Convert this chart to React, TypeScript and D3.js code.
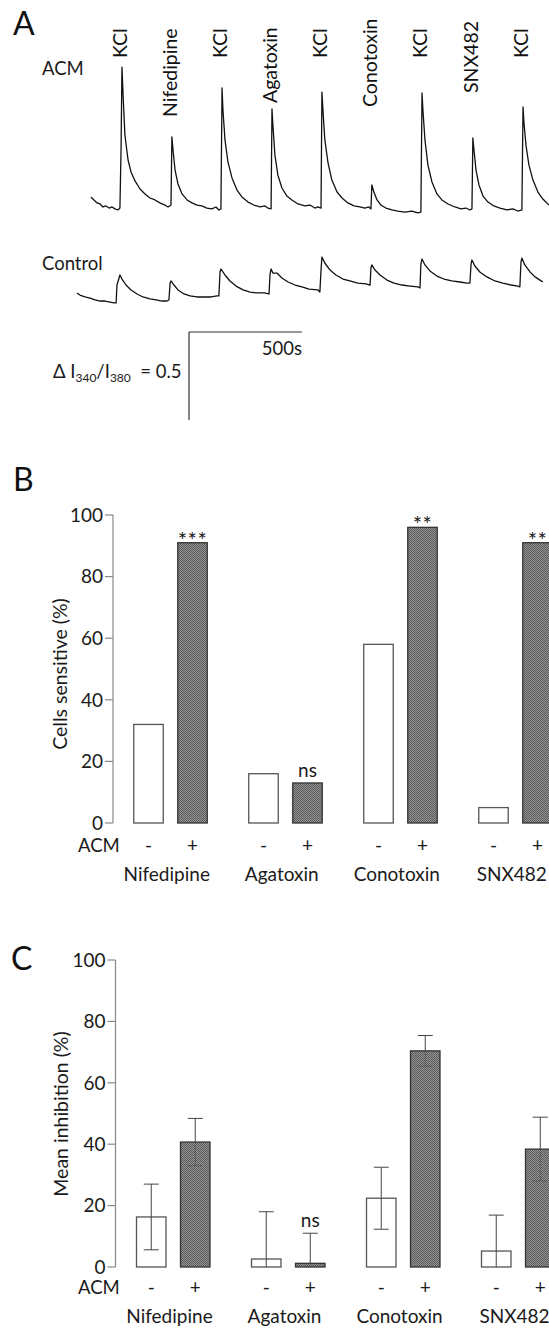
import * as d3 from "d3"

// ---- panel A: calcium traces, [time (s), delta ratio]
const acmTrace: [number, number][] = [
  [0, 0.131], [13, 0.114], [27, 0.097], [40, 0.091], [53, 0.074], [66, 0.08], [80, 0.068], [93, 0.074], [106, 0.063], [119, 0.057], [128, 0.068],
  [133, 0.398], [137, 0.869], [142, 0.71], [150, 0.483], [164, 0.341], [177, 0.273], [195, 0.222], [217, 0.176], [239, 0.148], [261, 0.125], [283, 0.114], [305, 0.097], [327, 0.085], [341, 0.074], [354, 0.085],
  [358, 0.472], [363, 0.398], [372, 0.284], [385, 0.205], [403, 0.148], [425, 0.114], [447, 0.097], [469, 0.085], [491, 0.08], [513, 0.068], [535, 0.063], [553, 0.074], [566, 0.057], [575, 0.063],
  [580, 0.75], [584, 0.625], [593, 0.455], [606, 0.33], [624, 0.239], [646, 0.17], [668, 0.131], [695, 0.102], [721, 0.085], [748, 0.074], [770, 0.08], [783, 0.068], [797, 0.063],
  [801, 0.631], [805, 0.54], [814, 0.369], [827, 0.256], [845, 0.182], [867, 0.136], [889, 0.114], [916, 0.091], [947, 0.08], [969, 0.085], [991, 0.068], [1004, 0.074], [1018, 0.068],
  [1022, 0.727], [1027, 0.614], [1035, 0.455], [1049, 0.324], [1066, 0.227], [1089, 0.159], [1111, 0.125], [1137, 0.097], [1164, 0.08], [1190, 0.074], [1212, 0.068], [1230, 0.074], [1239, 0.063],
  [1243, 0.199], [1252, 0.159], [1266, 0.114], [1283, 0.085], [1305, 0.068], [1332, 0.057], [1358, 0.051], [1389, 0.045], [1420, 0.051], [1447, 0.04], [1460, 0.045],
  [1465, 0.722], [1469, 0.625], [1478, 0.455], [1491, 0.313], [1509, 0.216], [1531, 0.148], [1553, 0.114], [1580, 0.091], [1611, 0.074], [1637, 0.063], [1659, 0.068], [1677, 0.057], [1686, 0.063],
  [1690, 0.466], [1695, 0.398], [1704, 0.284], [1717, 0.199], [1735, 0.136], [1757, 0.102], [1783, 0.08], [1810, 0.068], [1841, 0.057], [1867, 0.063], [1889, 0.051], [1907, 0.057],
  [1912, 0.642], [1916, 0.557], [1925, 0.426], [1938, 0.313], [1956, 0.227], [1978, 0.159], [2000, 0.119], [2027, 0.085],
]

const controlTrace: [number, number][] = [
  [-62, 0.097], [-49, 0.085], [-27, 0.074], [-4, 0.068], [18, 0.057], [40, 0.051], [62, 0.051], [84, 0.045], [102, 0.04], [111, 0.04],
  [115, 0.142], [128, 0.199], [137, 0.176], [155, 0.142], [177, 0.114], [204, 0.091], [230, 0.074], [261, 0.063], [288, 0.057], [314, 0.051], [336, 0.051], [345, 0.057],
  [350, 0.153], [354, 0.165], [367, 0.142], [385, 0.114], [412, 0.091], [438, 0.08], [469, 0.074], [500, 0.074], [531, 0.074], [558, 0.08], [566, 0.08],
  [571, 0.216], [575, 0.233], [593, 0.199], [615, 0.165], [642, 0.136], [673, 0.114], [704, 0.102], [735, 0.097], [766, 0.097], [788, 0.091],
  [792, 0.199], [797, 0.233], [805, 0.21], [823, 0.21], [845, 0.182], [872, 0.159], [903, 0.142], [934, 0.131], [965, 0.119], [1004, 0.114], [1013, 0.102],
  [1018, 0.227], [1022, 0.301], [1035, 0.267], [1058, 0.227], [1084, 0.199], [1115, 0.176], [1146, 0.165], [1181, 0.153], [1217, 0.148], [1235, 0.142],
  [1239, 0.239], [1243, 0.256], [1257, 0.227], [1279, 0.199], [1310, 0.17], [1341, 0.153], [1376, 0.142], [1412, 0.136], [1447, 0.131], [1456, 0.125],
  [1460, 0.261], [1465, 0.29], [1478, 0.256], [1500, 0.222], [1531, 0.193], [1562, 0.176], [1597, 0.165], [1633, 0.159], [1664, 0.153], [1677, 0.153],
  [1682, 0.261], [1686, 0.284], [1699, 0.25], [1721, 0.216], [1752, 0.188], [1788, 0.165], [1823, 0.153], [1859, 0.142], [1889, 0.136], [1898, 0.131],
  [1903, 0.273], [1907, 0.295], [1920, 0.256], [1943, 0.216], [1965, 0.188], [1987, 0.17], [2000, 0.159],
]

const stimLabels = ["KCl", "Nifedipine", "KCl", "Agatoxin", "KCl", "Conotoxin", "KCl", "SNX482", "KCl"]
const stimTimes = [137, 358, 580, 801, 1022, 1243, 1465, 1690, 1912]

// ---- panels B and C
const groups = ["Nifedipine", "Agatoxin", "Conotoxin", "SNX482"]
const acmLevels = ["-", "+"]
const sensitiveMinus = [32, 16, 58, 5]
const sensitivePlus = [91, 13, 96, 91]
const sensitiveSig = ["***", "ns", "**", "**"]
const inhibMinus = [16.3, 2.6, 22.4, 5.2]
const inhibPlus = [40.7, 1.2, 70.4, 38.4]
const inhibMinusErr = [10.7, 15.4, 10.1, 11.7]
const inhibPlusErr = [7.7, 9.8, 5.0, 10.4]
const inhibSig = ["", "ns", "", ""]
const yTicks = [0, 20, 40, 60, 80, 100]

const FONT = "Lato, 'Open Sans', sans-serif"
const W = 549
const H = 1328

// y position (bottom end) of the rotated stimulus labels
const labelBottom = [58, 117, 58, 103, 58, 107, 58, 93, 58]

interface BarPanelProps {
  axisX: number
  y0: number
  y100: number
  barStart: number
  minus: number[]
  plus: number[]
  minusErr?: number[]
  plusErr?: number[]
  sig: string[]
  yLabel: string
  yLabelPos: [number, number]
  acmY: number
  nameY: number
}

function BarPanel({ axisX, y0, y100, barStart, minus, plus, minusErr, plusErr, sig, yLabel, yLabelPos, acmY, nameY }: BarPanelProps) {
  const y = d3.scaleLinear().domain([0, 100]).range([y0, y100])
  const xg = d3.scaleBand<string>().domain(groups).range([barStart, barStart + 115 * groups.length]).padding(0)
  const xi = d3.scaleBand<string>().domain(acmLevels).range([0, 73.5]).paddingInner(0.33).paddingOuter(0)
  const bw = xi.bandwidth()

  return (
    <g>
      {/* axis */}
      <line x1={axisX} x2={axisX} y1={y(0)} y2={y(100)} stroke="#888" strokeWidth={1.2} />
      {yTicks.map((t) => (
        <g key={t}>
          <line x1={axisX - 8} x2={axisX} y1={y(t)} y2={y(t)} stroke="#888" strokeWidth={1.2} />
          <text x={axisX - 10} y={y(t)} dy="0.36em" textAnchor="end" fontSize={19} fill="#1a1a1a">
            {t}
          </text>
        </g>
      ))}
      <text transform={`translate(${yLabelPos[0]},${yLabelPos[1]}) rotate(-90)`} textAnchor="middle" dy="0.35em" fontSize={19.5} fill="#1a1a1a">
        {yLabel}
      </text>

      {groups.map((g, i) => {
        const gx = xg(g) as number
        const vals = [minus[i], plus[i]]
        const errs = minusErr && plusErr ? [minusErr[i], plusErr[i]] : null
        return (
          <g key={g}>
            {acmLevels.map((lv, j) => {
              const bx = gx + (xi(lv) as number)
              const cx = bx + bw / 2
              const top = y(vals[j])
              const dark = lv === "+"
              let err = null
              if (errs) {
                const hi = y(vals[j] + errs[j])
                const loVal = vals[j] - errs[j]
                const lo = y(Math.max(loVal, 0))
                err = (
                  <g stroke="#444" strokeWidth={1}>
                    <line x1={cx} x2={cx} y1={hi} y2={top} />
                    <line x1={cx - 7.5} x2={cx + 7.5} y1={hi} y2={hi} />
                    <line x1={cx} x2={cx} y1={top} y2={lo} strokeDasharray={dark ? "1.5,1.5" : undefined} />
                    {loVal > 0 && <line x1={cx - 7.5} x2={cx + 7.5} y1={lo} y2={lo} strokeDasharray={dark ? "1.5,1.5" : undefined} />}
                  </g>
                )
              }
              return (
                <g key={lv}>
                  <rect
                    x={bx}
                    y={top}
                    width={bw}
                    height={y(0) - top}
                    fill={dark ? "url(#checker)" : "#fff"}
                    stroke={dark ? "#333" : "#555"}
                    strokeWidth={1.3}
                  />
                  {err}
                  <text x={cx} y={acmY} textAnchor="middle" fontSize={19} fill="#1a1a1a">
                    {lv}
                  </text>
                </g>
              )
            })}
            {sig[i] && (() => {
              const cx = gx + (xi("+") as number) + bw / 2
              const refTop = errs ? y(plus[i] + errs[1]) : y(plus[i])
              const isStar = sig[i].startsWith("*")
              return (
                <text
                  x={cx}
                  y={isStar ? refTop + 5 : refTop - 6}
                  textAnchor="middle"
                  fontSize={isStar ? 22 : 19}
                  letterSpacing={isStar ? 0.5 : 0}
                  fill="#1a1a1a"
                >
                  {sig[i]}
                </text>
              )
            })()}
            <text x={gx + 33} y={nameY} textAnchor="middle" fontSize={19} fill="#1a1a1a">
              {g}
            </text>
          </g>
        )
      })}
      <text x={78} y={acmY} fontSize={18.5} fill="#1a1a1a">
        ACM
      </text>
    </g>
  )
}

export default function App() {
  const xA = d3.scaleLinear().domain([0, 2027]).range([91, 549])
  const yAcm = d3.scaleLinear().domain([0, 1]).range([220, 44])
  const yCtl = d3.scaleLinear().domain([0, 1]).range([310, 134])

  const acmLine = d3.line<[number, number]>().x((d) => xA(d[0])).y((d) => yAcm(d[1]))
  const ctlLine = d3.line<[number, number]>().x((d) => xA(d[0])).y((d) => yCtl(d[1]))

  // scale bar: 500 s and 0.5 ratio
  const sbX = 189
  const sbY = 332
  const sbW = xA(500) - xA(0)
  const sbH = yAcm(0) - yAcm(0.5)

  return (
    <svg width={W} height={H} style={{ position: "absolute", left: 0, top: 0, background: "#fff" }} fontFamily={FONT}>
      <defs>
        <pattern id="checker" width={2} height={2} patternUnits="userSpaceOnUse">
          <rect width={2} height={2} fill="#939393" />
          <rect width={1} height={1} fill="#5c5c5c" />
          <rect x={1} y={1} width={1} height={1} fill="#5c5c5c" />
        </pattern>
      </defs>

      {/* Panel A */}
      <text x={13} y={35} fontSize={32} fill="#111">A</text>
      <text x={42} y={75} fontSize={18.5} fill="#1a1a1a">ACM</text>
      <text x={42} y={270} fontSize={18.5} fill="#1a1a1a">Control</text>

      {stimLabels.map((lab, i) => (
        <text
          key={i}
          transform={`translate(${xA(stimTimes[i]) - 2},${labelBottom[i]}) rotate(-90)`}
          dy="0.36em"
          fontSize={19.5}
          fill="#111"
        >
          {lab}
        </text>
      ))}

      <path d={acmLine(acmTrace) as string} fill="none" stroke="#111" strokeWidth={1.3} strokeLinejoin="round" />
      <path d={ctlLine(controlTrace) as string} fill="none" stroke="#111" strokeWidth={1.3} strokeLinejoin="round" />

      <line x1={sbX} x2={sbX + sbW} y1={sbY} y2={sbY} stroke="#333" strokeWidth={1.2} />
      <line x1={sbX} x2={sbX} y1={sbY} y2={sbY + sbH} stroke="#333" strokeWidth={1.2} />
      <text x={sbX + sbW} y={355} textAnchor="end" fontSize={18.5} fill="#1a1a1a">500s</text>
      <text x={53} y={378} fontSize={18.5} fill="#1a1a1a">
        Δ I<tspan fontSize={12} dy={4}>340</tspan>
        <tspan dy={-4}>/I</tspan>
        <tspan fontSize={12} dy={4}>380</tspan>
        <tspan dy={-4} xmlSpace="preserve">{"  = 0.5"}</tspan>
      </text>

      {/* Panel B */}
      <text x={13} y={491} fontSize={32} fill="#111">B</text>
      <BarPanel
        axisX={113}
        y0={823}
        y100={515}
        barStart={133.75}
        minus={sensitiveMinus}
        plus={sensitivePlus}
        sig={sensitiveSig}
        yLabel="Cells sensitive (%)"
        yLabelPos={[60, 674]}
        acmY={852}
        nameY={881}
      />

      {/* Panel C */}
      <text x={11} y={970} fontSize={32} fill="#111">C</text>
      <BarPanel
        axisX={115.5}
        y0={1267}
        y100={960}
        barStart={136.5}
        minus={inhibMinus}
        plus={inhibPlus}
        minusErr={inhibMinusErr}
        plusErr={inhibPlusErr}
        sig={inhibSig}
        yLabel="Mean inhibition (%)"
        yLabelPos={[61, 1114]}
        acmY={1294}
        nameY={1323}
      />
    </svg>
  )
}
